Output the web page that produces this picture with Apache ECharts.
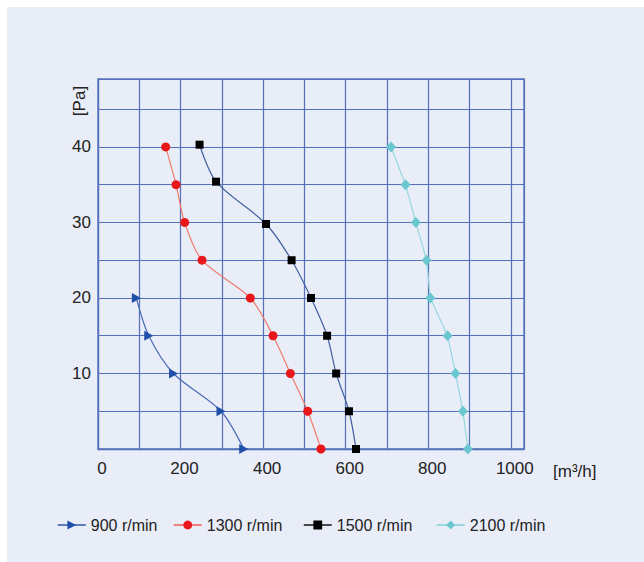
<!DOCTYPE html>
<html>
<head>
<meta charset="utf-8">
<script src="https://cdn.jsdelivr.net/npm/echarts@6/dist/echarts.min.js"></script>
<style>
html,body{margin:0;padding:0;background:#fff;}
#c{width:644px;height:562px;}
</style>
</head>
<body>
<div id="c"></div>
<script>
// Data (x: airflow m³/h, y: pressure Pa)
var seriesNames = ['900 r/min', '1300 r/min', '1500 r/min', '2100 r/min'];
var s900  = [[93, 20], [123, 15], [183, 10], [298, 5], [353, 0]];
var s1300 = [[164, 40], [189, 35], [210, 30], [252, 25], [369, 20], [424, 15], [466, 10], [508, 5], [540, 0]];
var s1500 = [[246, 40.3], [286, 35.4], [407, 29.8], [469, 25], [516, 20], [555, 15], [577, 10], [608, 5], [625, 0]];
var s2100 = [[710, 40], [745, 35], [770, 30], [796, 25], [805, 20], [847, 15], [866, 10], [884, 5], [896, 0]];
var xLabelValues = [0, 200, 400, 600, 800, 1000];
var yLabelValues = [10, 20, 30, 40];
var xUnit = '[m³/h]';
var yUnit = '[Pa]';

var gridColor = '#5470b8';
var font = 'Liberation Sans, Arial, sans-serif';

var chart = echarts.init(document.getElementById('c'), null, {renderer: 'svg'});

function legendItem(name, left, lineColor) {
  return {
    left: left, top: 517, padding: 0, itemWidth: 28, itemHeight: 11, itemGap: 5,
    textStyle: {fontFamily: font, fontSize: 16, color: '#222'},
    data: [{name: name, lineStyle: {color: lineColor, width: 1.5}}]
  };
}

chart.setOption({
  backgroundColor: '#ffffff',
  animation: false,
  graphic: [
    {type: 'rect', z: -10, shape: {x: 7, y: 7, width: 637, height: 555}, style: {fill: '#e9edf8'}},
    {type: 'text', x: 79, y: 101, rotation: Math.PI / 2,
     style: {text: yUnit, font: '17px ' + font, fill: '#222', align: 'center', verticalAlign: 'middle'}},
    {type: 'text', x: 553, y: 471,
     style: {text: xUnit, font: '17px ' + font, fill: '#222', align: 'left', verticalAlign: 'middle'}}
  ],
  grid: {left: 98, right: 120, top: 79, bottom: 113, show: true, borderColor: gridColor, borderWidth: 1.3, backgroundColor: 'transparent'},
  legend: [
    legendItem(seriesNames[0], 57, '#2f55ad'),
    legendItem(seriesNames[1], 173, '#f05a50'),
    legendItem(seriesNames[2], 303, '#111'),
    legendItem(seriesNames[3], 436, '#7fd0d8')
  ],
  xAxis: {
    type: 'value', min: 0, max: 1032, interval: 100,
    axisLine: {show: true, lineStyle: {color: gridColor, width: 1.3}},
    axisTick: {show: false},
    splitLine: {show: true, lineStyle: {color: gridColor, width: 1.2}},
    axisLabel: {
      margin: 11, color: '#222', fontFamily: font, fontSize: 17, padding: [0, 0, 0, 8],
      formatter: function (v) { return xLabelValues.indexOf(v) >= 0 ? String(v) : ''; }
    }
  },
  yAxis: {
    type: 'value', min: 0, max: 49, interval: 5,
    axisLine: {show: true, lineStyle: {color: gridColor, width: 1.3}},
    axisTick: {show: false},
    splitLine: {show: true, lineStyle: {color: gridColor, width: 1.2}},
    axisLabel: {
      margin: 7, color: '#222', fontFamily: font, fontSize: 17,
      formatter: function (v) { return yLabelValues.indexOf(v) >= 0 ? String(v) : ''; }
    }
  },
  series: [
    {name: seriesNames[0], type: 'line', data: s900, smooth: 0.3,
     symbol: 'triangle', symbolRotate: -90, symbolSize: [10, 9],
     itemStyle: {color: '#1f4fa8'}, lineStyle: {color: '#4b6cb7', width: 1.2}},
    {name: seriesNames[1], type: 'line', data: s1300, smooth: 0.3,
     symbol: 'circle', symbolSize: 9,
     itemStyle: {color: '#e8171a'}, lineStyle: {color: '#f07a6a', width: 1.2}},
    {name: seriesNames[2], type: 'line', data: s1500, smooth: 0.3,
     symbol: 'rect', symbolSize: 8,
     itemStyle: {color: '#000'}, lineStyle: {color: '#3f5f9f', width: 1.2}},
    {name: seriesNames[3], type: 'line', data: s2100, smooth: false,
     symbol: 'diamond', symbolSize: [10, 11],
     itemStyle: {color: '#6ac7cf'}, lineStyle: {color: '#95d8de', width: 1.2}}
  ]
});
</script>
</body>
</html>
